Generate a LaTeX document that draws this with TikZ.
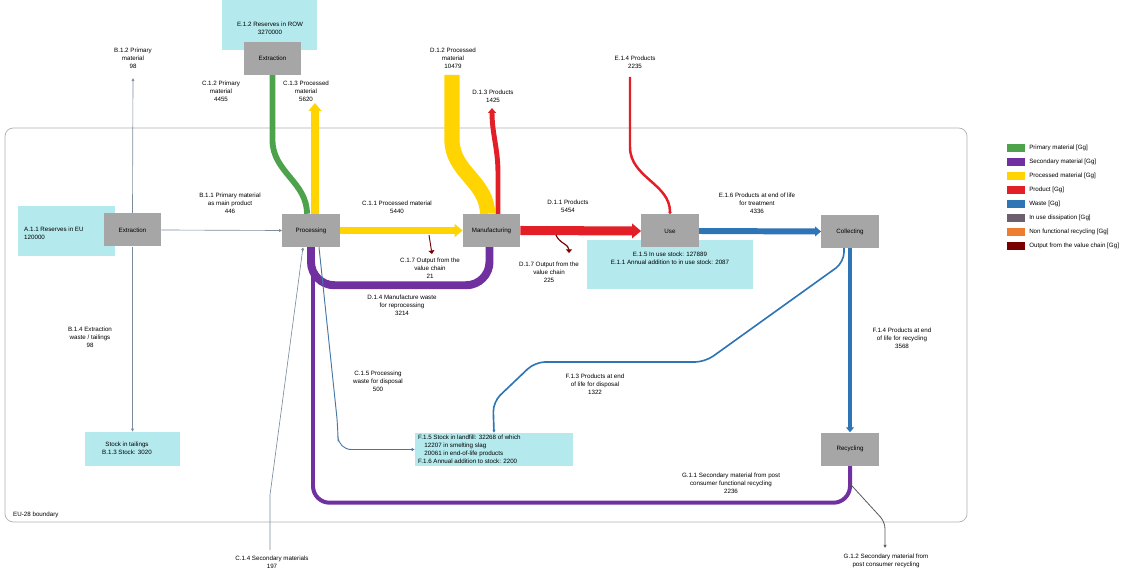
\documentclass[tikz,border=0pt]{standalone}
\usepackage{fontspec}
\setmainfont{Liberation Sans}
\usetikzlibrary{arrows.meta,calc}
\pgfdeclarelayer{back}
\pgfdeclarelayer{mid}
\pgfsetlayers{back,mid,main}

\definecolor{primary}{RGB}{76,163,76}
\definecolor{secondary}{RGB}{112,48,160}
\definecolor{processed}{RGB}{255,212,0}
\definecolor{product}{RGB}{226,30,38}
\definecolor{waste}{RGB}{46,117,182}
\definecolor{indiss}{RGB}{110,95,110}
\definecolor{nonfunc}{RGB}{237,125,49}
\definecolor{outcol}{RGB}{120,0,0}
\definecolor{boxgray}{RGB}{166,166,166}
\definecolor{stockcyan}{RGB}{180,234,238}
\definecolor{linegray}{RGB}{125,140,155}
\definecolor{linedark}{RGB}{90,90,90}
\definecolor{boundgray}{RGB}{175,175,175}

\begin{document}
\begin{tikzpicture}[x=0.03cm,y=-0.03cm,
  font=\fontsize{5.3}{7}\selectfont,
  procbox/.style={fill=boxgray, minimum width=1.72cm, minimum height=0.99cm, inner sep=0},
  stockbox/.style={fill=stockcyan, inner sep=0},
  lbl/.style={align=center, inner sep=0},
  flowtip/.style={-{Triangle[length=0pt 1.0,width=0pt 1.6]}},
  thintip/.style={-{Triangle[length=2.6pt,width=2.4pt]}},
  thinline/.style={draw=linegray, line width=0.55pt, thintip},
]
\useasboundingbox (0,0) rectangle (1133,573);

% stock areas and system boundary
\begin{pgfonlayer}{back}
\node[stockbox, minimum width=2.91cm, minimum height=1.5cm] (resEU) at (66.5,231) {};
\node[stockbox, minimum width=2.85cm, minimum height=1.5cm] (resROW) at (269.5,25) {};
\node[stockbox, minimum width=4.98cm, minimum height=1.47cm] (stockuse) at (670,264.5) {};
\node[stockbox, minimum width=2.85cm, minimum height=1.02cm] (tail) at (132.5,449) {};
\node[stockbox, minimum width=4.74cm, minimum height=0.99cm] (landfill) at (494,449.5) {};
\node[draw=boundgray, line width=0.6pt, rounded corners=0.25cm, inner sep=0,
      minimum width=28.86cm, minimum height=11.82cm] (boundary) at (486,325) {};
\end{pgfonlayer}

% processes
\node[procbox] (ext1) at (132.5,230) {Extraction};
\node[procbox] (ext2) at (272.5,58.5) {Extraction};
\node[procbox] (proc) at (311,230.5) {Processing};
\node[procbox] (manu) at (491.5,230.5) {Manufacturing};
\node[procbox] (use) at (670,231) {Use};
\node[procbox] (coll) at (850,231.5) {Collecting};
\node[procbox] (recy) at (850,449) {Recycling};

% free ends of flows crossing the boundary
\coordinate (cexp) at (315,103);
\coordinate (dimp) at (452,75);
\coordinate (dexp) at (492,108);
\coordinate (uimp) at (630,77);
\coordinate (bexp) at (133,78);
\coordinate (secin) at (270,550);
\coordinate (c17s) at (429,235);
\coordinate (c17) at (432,254);
\coordinate (d17s) at (556,235);
\coordinate (d17) at (569,253);
\coordinate (g12) at (885,548);

% flows
\begin{pgfonlayer}{mid}
\draw[primary, line width=5pt] (ext2.south) -- ++(0,65) to[out=-90,in=90] ($(proc.north)+(-4,0)$);
\draw[processed, line width=6.8pt, flowtip] ($(proc.north)+(4,0)$) -- (cexp);
\draw[processed, line width=6.8pt, flowtip] (proc.east) -- (manu.west);
\draw[processed, line width=13pt] (dimp) -- ++(0,65) to[out=-90,in=90] ($(manu.north)+(-4,0)$);
\draw[product, line width=4.2pt, flowtip] ($(manu.north)+(6.5,0)$) -- ++(0,-40) to[out=90,in=-90] (dexp);
\draw[product, line width=7.7pt, flowtip] (manu.east) -- (use.west);
\draw[product, line width=2.1pt, flowtip] (uimp) -- ++(0,70) to[out=-90,in=90] (use.north);
\draw[waste, line width=5.1pt, flowtip] (use.east) -- (coll.west);
\draw[waste, line width=4.2pt, flowtip] (coll.south) -- (recy.north);
\draw[waste, line width=1.4pt, rounded corners=0.3cm, thintip]
  ($(coll.south)+(-6,0)$) -- ++(0,14) -- (705,362) -- (535,362) -- (493,402) -- (landfill.north);
\draw[secondary, line width=6.8pt, rounded corners=0.7cm]
  ($(manu.south)+(-2,0)$) -- ++(0,38) -| (proc.south);
\draw[secondary, line width=3.4pt, rounded corners=0.5cm]
  (recy.south) -- ++(0,37) -| ($(proc.south)+(2,0)$);
\draw[draw=waste!70!gray, line width=0.8pt, rounded corners=0.4cm, thintip]
  ($(proc.south)+(8,0)$) -- (338,428) |- (landfill.west);
\draw[thinline] (secin) -- ++(0,-55) -- ($(proc.south)+(-8,0)$);
\draw[thinline] (ext1.north) -- (bexp);
\draw[thinline] (ext1.south) -- (tail.north);
\draw[thinline] (ext1.east) -- (proc.west);
\draw[outcol, line width=0.8pt, -{Triangle[length=3pt,width=5pt]}] (c17s) -- (c17);
\draw[outcol, line width=1pt, -{Triangle[length=3pt,width=5pt]}] (d17s) to[out=-70,in=90] (d17);
\draw[linedark, line width=0.7pt, rounded corners=0.2cm, thintip]
  ($(recy.south)+(0,18)$) -- (885,522) -- (g12);
\end{pgfonlayer}

% stock texts
\node[lbl] (tROW) at (270,28) {E.1.2 Reserves in ROW\\3270000};
\node[lbl, anchor=west, align=left] (tEU) at (24,233) {A.1.1 Reserves in EU\\120000};
\node[lbl] (tuse) at (670,258) {E.1.5 In use stock: 127889\\E.1.1 Annual addition to in use stock: 2087};
\node[lbl] (ttail) at (127,448) {Stock in tailings\\B.1.3 Stock: 3020};
\node[lbl, anchor=west, align=left, font=\fontsize{5.3}{6.8}\selectfont] (tland) at (418,449.5)
  {F.1.5 Stock in landfill: 32268 of which\\\quad 12207 in smelting slag\\\quad 20061 in end-of-life products\\F.1.6 Annual addition to stock: 2200};

% flow labels
\node[lbl] (lB12) at (133,58) {B.1.2 Primary\\material\\98};
\node[lbl] (lC12) at (221,91) {C.1.2 Primary\\material\\4455};
\node[lbl] (lC13) at (306,91) {C.1.3 Processed\\material\\5620};
\node[lbl] (lD12) at (453,58) {D.1.2 Processed\\material\\10479};
\node[lbl] (lD13) at (493,96) {D.1.3 Products\\1425};
\node[lbl] (lE14) at (635,62) {E.1.4 Products\\2235};
\node[lbl] (lB11) at (230,203) {B.1.1 Primary material\\as main product\\446};
\node[lbl] (lC11) at (397,207) {C.1.1 Processed material\\5440};
\node[lbl] (lD11) at (568,206) {D.1.1 Products\\5454};
\node[lbl] (lE16) at (757,203) {E.1.6 Products at end of life\\for treatment\\4336};
\node[lbl] (lC17) at (430,268) {C.1.7 Output from the\\value chain\\21};
\node[lbl] (lD17) at (549,272) {D.1.7 Output from the\\value chain\\225};
\node[lbl] (lD14) at (402,305) {D.1.4 Manufacture waste\\for reprocessing\\3214};
\node[lbl] (lB14) at (90,337) {B.1.4 Extraction\\waste / tailings\\98};
\node[lbl] (lC15) at (378,381) {C.1.5 Processing\\waste for disposal\\500};
\node[lbl] (lF13) at (595,384) {F.1.3 Products at end\\of life for disposal\\1322};
\node[lbl] (lF14) at (902,338) {F.1.4 Products at end\\of life for recycling\\3568};
\node[lbl] (lG11) at (731,483) {G.1.1 Secondary material from post\\consumer functional recycling\\2236};
\node[lbl, anchor=west] (lbound) at (13,515) {EU-28 boundary};
\node[lbl] (lC14) at (272,562) {C.1.4 Secondary materials\\197};
\node[lbl] (lG12) at (886,561) {G.1.2 Secondary material from\\post consumer recycling};

% legend
\foreach \c/\t [count=\i] in {primary/Primary material [Gg], secondary/Secondary material [Gg],
    processed/Processed material [Gg], product/Product [Gg], waste/Waste [Gg],
    indiss/In use dissipation [Gg], nonfunc/Non functional recycling [Gg],
    outcol/Output from the value chain [Gg]} {
  \node[fill=\c, minimum width=0.54cm, minimum height=0.24cm, inner sep=0] (sw\i) at (1016,{134+14*\i}) {};
  \node[lbl, anchor=west] (lg\i) at (1029,{134+14*\i}) {\t};
}
\end{tikzpicture}
\end{document}
